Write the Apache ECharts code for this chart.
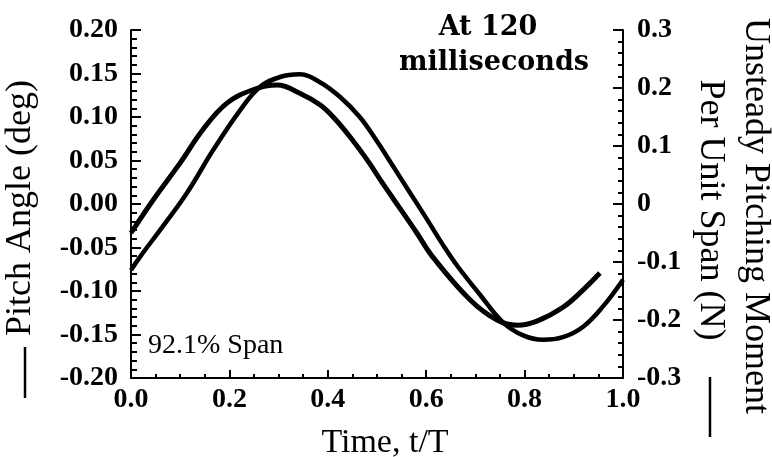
<!DOCTYPE html>
<html>
<head>
<meta charset="utf-8">
<script src="https://cdn.jsdelivr.net/npm/echarts@6/dist/echarts.min.js"></script>
<style>
html,body{margin:0;padding:0;background:#fff;}
#c{width:772px;height:457px;}
</style>
</head>
<body>
<div id="c"></div>
<script>
// Pitch angle (deg) vs time t/T — left axis
var pitchT = [0, 0.018, 0.059, 0.114, 0.167, 0.222, 0.262, 0.303, 0.343, 0.384, 0.425, 0.465, 0.500, 0.533, 0.567, 0.602, 0.634, 0.663, 0.709, 0.756, 0.797, 0.837, 0.878, 0.919, 0.959, 1.0];
var pitchVals = [-0.076, -0.061, -0.030, 0.013, 0.062, 0.108, 0.1345, 0.146, 0.149, 0.140, 0.123, 0.100, 0.072, 0.043, 0.013, -0.018, -0.047, -0.071, -0.104, -0.136, -0.151, -0.156, -0.153, -0.141, -0.118, -0.087];
// Unsteady pitching moment per unit span (N) — right axis
var momentT = [0, 0.045, 0.100, 0.146, 0.195, 0.248, 0.297, 0.343, 0.384, 0.411, 0.445, 0.480, 0.512, 0.547, 0.581, 0.614, 0.689, 0.744, 0.785, 0.825, 0.878, 0.919, 0.953];
var momentVals = [-0.050, 0.007, 0.071, 0.128, 0.174, 0.197, 0.205, 0.191, 0.171, 0.150, 0.116, 0.076, 0.035, -0.008, -0.050, -0.092, -0.165, -0.200, -0.209, -0.202, -0.178, -0.148, -0.119];

var xTickLabels = ['0.0', '0.2', '0.4', '0.6', '0.8', '1.0'];
var leftTickLabels = ['-0.20', '-0.15', '-0.10', '-0.05', '0.00', '0.05', '0.10', '0.15', '0.20'];
var rightTickLabels = ['-0.3', '-0.2', '-0.1', '0', '0.1', '0.2', '0.3'];

function pairs(xs, ys) { return xs.map(function (x, i) { return [x, ys[i]]; }); }

var chart = echarts.init(document.getElementById('c'), null, { renderer: 'canvas' });
var tickFont = { fontFamily: 'Liberation Serif', fontWeight: 'bold', fontSize: 28, color: '#000' };
var titleFont = '36px "Liberation Serif"';

chart.setOption({
  animation: false,
  backgroundColor: '#fff',
  grid: { left: 131, right: 149, top: 30, bottom: 79 },
  xAxis: {
    type: 'value', min: 0, max: 1, interval: 0.2,
    axisLine: { show: true, onZero: false, lineStyle: { color: '#000', width: 2 } },
    axisTick: { show: true, inside: true, length: 8, lineStyle: { color: '#000', width: 2 } },
    minorTick: { show: true, splitNumber: 4, length: 4, lineStyle: { color: '#000', width: 2 } },
    splitLine: { show: false },
    axisLabel: Object.assign({ margin: 8, formatter: function (v, i) { return xTickLabels[i]; } }, tickFont)
  },
  yAxis: [{
    type: 'value', min: -0.2, max: 0.2, interval: 0.05, position: 'left',
    axisLine: { show: true, onZero: false, lineStyle: { color: '#000', width: 2 } },
    axisTick: { show: true, inside: true, length: 10, lineStyle: { color: '#000', width: 2 } },
    minorTick: { show: true, splitNumber: 5, length: 6, lineStyle: { color: '#000', width: 2 } },
    splitLine: { show: false },
    axisLabel: Object.assign({ margin: 13, formatter: function (v, i) { return leftTickLabels[i]; } }, tickFont)
  }, {
    type: 'value', min: -0.3, max: 0.3, interval: 0.1, position: 'right',
    axisLine: { show: true, onZero: false, lineStyle: { color: '#000', width: 2 } },
    axisTick: { show: true, inside: true, length: 10, lineStyle: { color: '#000', width: 2 } },
    minorTick: { show: true, splitNumber: 5, length: 5, lineStyle: { color: '#000', width: 2 } },
    splitLine: { show: false },
    axisLabel: Object.assign({ margin: 14, formatter: function (v, i) { return rightTickLabels[i]; } }, tickFont)
  }],
  series: [{
    name: 'Pitch Angle', type: 'line', yAxisIndex: 0,
    data: pairs(pitchT, pitchVals), smooth: 0.4, showSymbol: false,
    lineStyle: { color: '#000', width: 4.5 }
  }, {
    name: 'Unsteady Pitching Moment', type: 'line', yAxisIndex: 1,
    data: pairs(momentT, momentVals), smooth: 0.4, showSymbol: false,
    lineStyle: { color: '#000', width: 5 }
  }],
  graphic: [
    { type: 'text', x: 488, y: 28, style: { text: 'At 120', font: 'bold 27px "DejaVu Serif"', fill: '#000', align: 'center', verticalAlign: 'middle' } },
    { type: 'text', x: 494, y: 63, style: { text: 'milliseconds', font: 'bold 27px "DejaVu Serif"', fill: '#000', align: 'center', verticalAlign: 'middle' } },
    { type: 'text', x: 148, y: 346, style: { text: '92.1% Span', font: '28px "Liberation Serif"', fill: '#000', align: 'left', verticalAlign: 'middle' } },
    { type: 'text', x: 385, y: 443, style: { text: 'Time, t/T', font: '34px "Liberation Serif"', fill: '#000', align: 'center', verticalAlign: 'middle' } },
    { type: 'text', x: 21, y: 208, rotation: Math.PI / 2, style: { text: 'Pitch Angle (deg)', font: titleFont, fill: '#000', align: 'center', verticalAlign: 'middle' } },
    { type: 'line', shape: { x1: 25, y1: 347, x2: 25, y2: 398 }, style: { stroke: '#000', lineWidth: 2.5 } },
    { type: 'text', x: 755, y: 216, rotation: -Math.PI / 2, style: { text: 'Unsteady Pitching Moment', font: titleFont, fill: '#000', align: 'center', verticalAlign: 'middle' } },
    { type: 'text', x: 710, y: 210, rotation: -Math.PI / 2, style: { text: 'Per Unit Span (N)', font: titleFont, fill: '#000', align: 'center', verticalAlign: 'middle' } },
    { type: 'line', shape: { x1: 710, y1: 377, x2: 710, y2: 437 }, style: { stroke: '#000', lineWidth: 2.5 } }
  ]
});
</script>
</body>
</html>
